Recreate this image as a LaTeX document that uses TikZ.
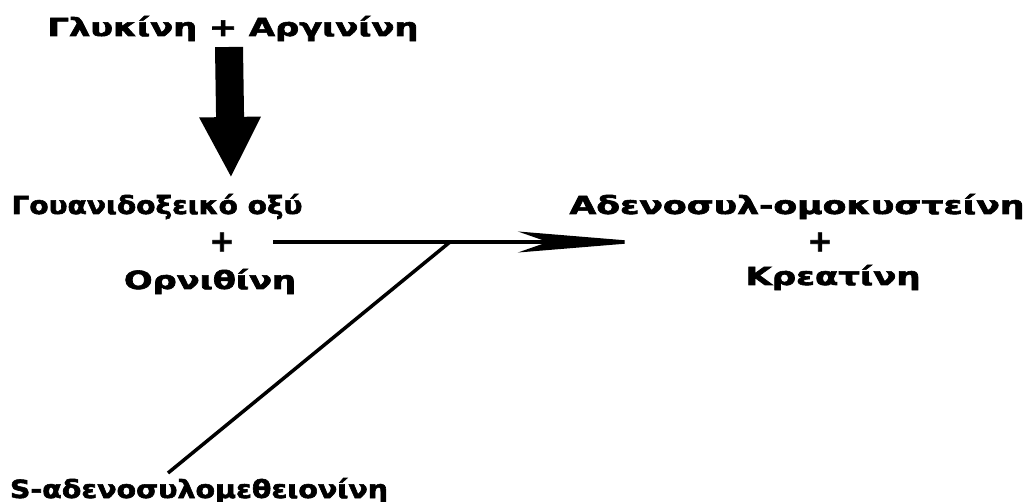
\documentclass[tikz,border=0pt]{standalone}
\usepackage{fontspec}
\usepackage{graphicx}
\newfontfamily\labfont[FakeBold=2.2]{DejaVu Sans Bold}
\usetikzlibrary{arrows.meta}

% stretch a label horizontally to a given width, keeping its height
\newcommand\fitw[2]{\resizebox{#1}{\height}{#2}}

\tikzset{
  lab/.style={font=\labfont\fontsize{25}{30}\selectfont, inner sep=0pt, anchor=base},
  plus/.style={font=\labfont\fontsize{30}{34}\selectfont, inner sep=0pt, anchor=center},
  bigarrow/.style={line width=28pt, -{Triangle[length=61pt,width=57pt]}},
  reaction/.style={line width=3.5pt, -{Stealth[length=128pt,width=21pt,inset=30pt]}},
  branch/.style={line width=3.5pt}
}

\begin{document}
\begin{tikzpicture}[x=1pt,y=-1pt]
\useasboundingbox (0,0) rectangle (1030,502);

% substrates and products
\node[lab] (gly) at (233,36)  {\fitw{371pt}{Γλυκίνη + Αργινίνη}};
\node[lab] (gua) at (157,214) {\fitw{291pt}{Γουανιδοξεικό οξύ}};
\node[plus] (plusL) at (222,242) {+};
\node[lab] (orn) at (210,289) {\fitw{172pt}{Ορνιθίνη}};
\node[lab] (ade) at (797,214) {\fitw{455pt}{Αδενοσυλ-ομοκυστείνη}};
\node[plus] (plusR) at (820,242) {+};
\node[lab] (kre) at (833,285) {\fitw{175pt}{Κρεατίνη}};
\node[lab] (sad) at (199,498) {\fitw{378pt}{S-αδενοσυλομεθειονίνη}};

% connector end points
\coordinate (t0) at (229,47);
\coordinate (t1) at (231,178);
\coordinate (h0) at (273,242);
\coordinate (h1) at (646,242);
\coordinate (j)  at (450,242);
\coordinate (s0) at (168,473);

\draw[bigarrow] (t0) -- (t1);
\draw[reaction] (h0) -- (h1);
\draw[branch] (s0) -- (j);
\end{tikzpicture}
\end{document}
